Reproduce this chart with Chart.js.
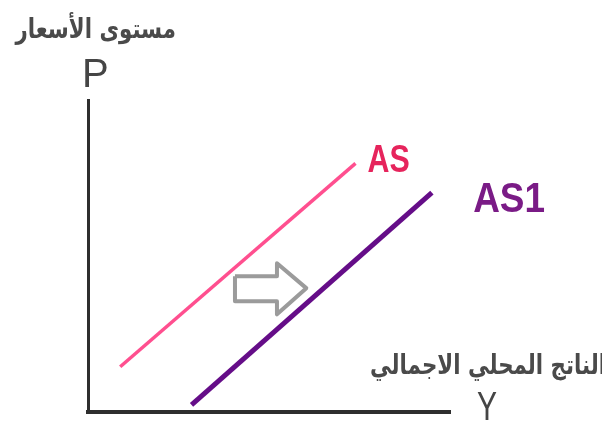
<!DOCTYPE html>
<html>
<head>
<meta charset="utf-8">
<script src="https://cdn.jsdelivr.net/npm/chart.js@4"></script>
<style>
  html, body { margin: 0; padding: 0; background: #fff; }
  canvas { display: block; }
</style>
</head>
<body>
<canvas id="c" width="602" height="422"></canvas>
<script>
'use strict';
// AS curve shifts right to AS1 (supply diagram)
var asX = [8.9, 73.9];
var asY = [14.5, 79.7];
var as1X = [28.6, 95];
var as1Y = [2.3, 70.3];
// outline of the shift arrow, in data units
var arrowX = [40.6, 52.2, 52.2, 60.3, 52.2, 52.2, 40.6, 40.6];
var arrowY = [43.5, 43.5, 47.7, 39.7, 31.3, 35.5, 35.5, 43.5];
var curveNames = ['AS', 'AS1'];
var curveLabelX = [77.2, 106.4];
var curveLabelY = [76.8, 64.2];
var yTitle = 'مستوى الأسعار';
var xTitle = 'الناتج المحلي الاجمالي';
var yLetter = 'P';
var xLetter = 'Y';

function pts(xs, ys)
{
    var out = [];
    for (var i = 0; i < xs.length; i++) {
        out.push({ x: xs[i], y: ys[i] });
    }
    return out;
}

var labels = {
    id: 'labels',
    afterDatasetsDraw: function (chart) {
        var ctx = chart.ctx, sx = chart.scales.x, sy = chart.scales.y;
        var cols = ['#e6245c', '#7a1b86'];
        var sizes = [38, 42];
        var squeeze = [0.8, 0.88];
        ctx.save();
        ctx.textBaseline = 'alphabetic';
        ctx.textAlign = 'left';
        for (var i = 0; i < curveNames.length; i++) {
            var px = sx.getPixelForValue(curveLabelX[i]);
            var py = sy.getPixelForValue(curveLabelY[i]);
            ctx.save();
            ctx.translate(px, py);
            ctx.scale(squeeze[i], 1);
            ctx.font = 'bold ' + sizes[i] + 'px "Liberation Sans", Arial, sans-serif';
            ctx.fillStyle = cols[i];
            ctx.fillText(curveNames[i], 0, 0);
            ctx.restore();
        }
        ctx.fillStyle = '#454545';
        ctx.font = '40px "Liberation Sans", Arial, sans-serif';
        ctx.fillText(yLetter, 82, 87);
        ctx.save();
        ctx.translate(477, 420);
        ctx.scale(0.75, 1);
        ctx.fillText(xLetter, 0, 0);
        ctx.restore();
        ctx.direction = 'rtl';
        ctx.textAlign = 'right';
        ctx.fillStyle = '#4a4a4a';
        ctx.font = 'bold 27px "DejaVu Sans", sans-serif';
        ctx.save();
        ctx.translate(176, 38);
        ctx.scale(0.79, 1);
        ctx.fillText(yTitle, 0, 0);
        ctx.restore();
        ctx.save();
        ctx.translate(606, 374);
        ctx.scale(0.79, 1);
        ctx.fillText(xTitle, 0, 0);
        ctx.restore();
        ctx.restore();
    }
};

new Chart(document.getElementById('c').getContext('2d'), {
    type: 'scatter',
    data: {
        datasets: [{
            data: pts(asX, asY),
            showLine: true,
            borderColor: '#ff4f8f',
            borderWidth: 3.5,
            pointRadius: 0
        }, {
            data: pts(as1X, as1Y),
            showLine: true,
            borderColor: '#650d88',
            borderWidth: 5,
            pointRadius: 0
        }, {
            data: pts(arrowX, arrowY),
            showLine: true,
            borderColor: '#9b9b9b',
            borderWidth: 4,
            borderJoinStyle: 'round',
            pointRadius: 0
        }]
    },
    options: {
        responsive: false,
        animation: false,
        devicePixelRatio: 1,
        layout: { padding: { left: 88, top: 100, right: 152, bottom: 10 } },
        scales: {
            x: {
                type: 'linear', min: 0, max: 100,
                grid: { display: false, drawTicks: false },
                ticks: { display: false },
                border: { display: true, color: '#2e2e2e', width: 4 }
            },
            y: {
                type: 'linear', min: 0, max: 100,
                grid: { display: false, drawTicks: false },
                ticks: { display: false },
                border: { display: true, color: '#2e2e2e', width: 3 }
            }
        },
        plugins: { legend: { display: false }, tooltip: { enabled: false } }
    },
    plugins: [labels]
});
</script>
</body>
</html>
